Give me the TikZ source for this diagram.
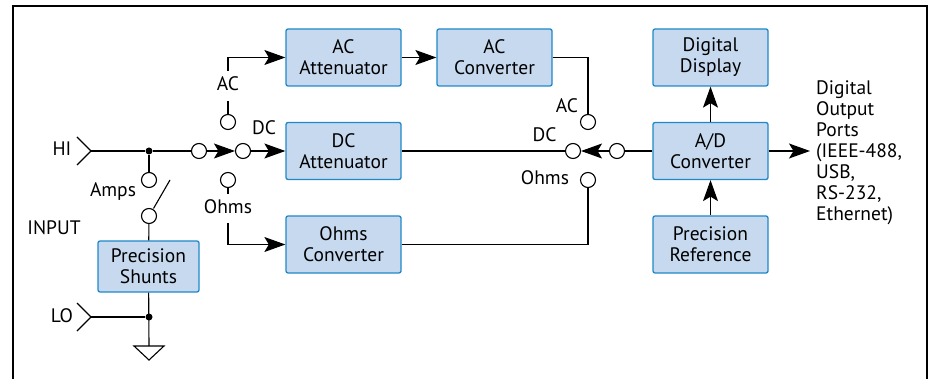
\documentclass[tikz,border=0pt]{standalone}
\usepackage{fontspec}
\setmainfont{PT Sans}
\usetikzlibrary{arrows.meta}
\definecolor{boxfill}{HTML}{C6D9EF}
\definecolor{boxedge}{HTML}{1E88C9}
\tikzset{
  blk/.style={draw=boxedge,fill=boxfill,line width=1.3pt,rounded corners=2pt,minimum width=115pt,minimum height=57pt,inner sep=0pt,align=center,font=\fontsize{19.5}{21}\selectfont},
  contact/.style={circle,draw=black,fill=white,line width=1.1pt,minimum size=15pt,inner sep=0pt},
  junction/.style={circle,fill=black,minimum size=7pt,inner sep=0pt},
  lbl/.style={inner sep=0pt,font=\fontsize{19.5}{21}\selectfont},
  wire/.style={line width=1.1pt,draw=black},
  flow/.style={wire,-{Stealth[length=21pt,width=15pt,inset=4.5pt]}},
}
\begin{document}
\begin{tikzpicture}[x=1pt,y=-1pt]
\useasboundingbox (0,0) rectangle (928,379);
\draw[line width=2.2pt,black] (13,379) -- (13,6) -- (927,6) -- (927,379);
% blocks
\node[blk] (acatt) at (343.5,57.5) {AC\\Attenuator};
\node[blk] (acconv) at (494.5,57.5) {AC\\Converter};
\node[blk] (dcatt) at (343.5,151) {DC\\Attenuator};
\node[blk] (ohmconv) at (343.5,244.5) {Ohms\\Converter};
\node[blk] (disp) at (710.5,57.5) {Digital\\Display};
\node[blk] (adc) at (710.5,151) {A/D\\Converter};
\node[blk] (pref) at (710.5,244.5) {Precision\\Reference};
\node[blk,minimum width=101pt,minimum height=51pt] (shunt) at (148.5,266.5) {Precision\\Shunts};
% contacts
\node[contact] (c1) at (199,151) {};
\node[contact] (c2) at (243,151) {};
\node[contact] (cac) at (228,122) {};
\node[contact] (cohm) at (228,180) {};
\node[contact] (ampa) at (149,180) {};
\node[contact] (ampb) at (149,216) {};
\node[contact] (rac) at (588,122) {};
\node[contact] (rdc) at (573,151) {};
\node[contact] (rin) at (617,151) {};
\node[contact] (rohm) at (588,180) {};
\node[junction] (jhi) at (149,151) {};
\node[junction] (jlo) at (149,317) {};
% labels
\node[lbl] (lhi) at (62,149) {HI};
\node[lbl] (llo) at (62,316) {LO};
\node[lbl] (lamps) at (113,192) {Amps};
\node[lbl] (linput) at (54,228) {INPUT};
\node[lbl] (lac) at (228,84) {AC};
\node[lbl] (ldc) at (264,128) {DC};
\node[lbl] (lohm) at (228,207) {Ohms};
\node[lbl] (rlac) at (567,106) {AC};
\node[lbl] (rldc) at (544.5,135) {DC};
\node[lbl] (rlohm) at (545,178) {Ohms};
\node[lbl,anchor=west,align=left] (ports) at (816,153) {Digital\\Output\\Ports\\(IEEE-488,\\USB,\\RS-232,\\Ethernet)};
% free ends
\coordinate (hi) at (91,151);
\coordinate (hia) at (77,137);
\coordinate (hib) at (77,165);
\coordinate (lo) at (91,317);
\coordinate (loa) at (77,303);
\coordinate (lob) at (77,331);
\coordinate (gndtop) at (149,346);
\coordinate (gnda) at (134,346);
\coordinate (gndb) at (164,346);
\coordinate (gndc) at (149,360);
\coordinate (swa) at (153.5,208.5);
\coordinate (swb) at (170,180);
\coordinate (outend) at (810,151);
\coordinate (ohmtop) at (228,223);
\coordinate (ohmstub) at (228,194);
\coordinate (acbot) at (228,71);
\coordinate (acup) at (228,101);
% connectors
\draw[wire] (hia) -- (hi) -- (hib);
\draw[wire] (loa) -- (lo) -- (lob);
\draw[wire] (hi) -- (jhi) -- (c1);
\draw[wire] (lo) -- (jlo);
\draw[wire] (jhi) -- (ampa);
\draw[wire] (ampb) -- (shunt);
\draw[wire] (shunt) -- (gndtop);
\draw[wire,line join=miter] (gnda) -- (gndb) -- (gndc) -- cycle;
\draw[wire] (swa) -- (swb);
\draw[flow] (c1) -- (c2);
\draw[flow] (c2) -- (dcatt);
\draw[flow] (acbot) |- (acatt);
\draw[wire] (acup) -- (cac);
\draw[flow] (ohmtop) |- (ohmconv);
\draw[wire] (cohm) -- (ohmstub);
\draw[flow] (acatt) -- (acconv);
\draw[wire] (acconv) -| (rac);
\draw[wire] (dcatt) -- (rdc);
\draw[wire] (ohmconv) -| (rohm);
\draw[flow] (rin) -- (rdc);
\draw[wire] (adc) -- (rin);
\draw[flow] (adc) -- (disp);
\draw[flow] (pref) -- (adc);
\draw[flow] (adc) -- (outend);
\end{tikzpicture}
\end{document}
